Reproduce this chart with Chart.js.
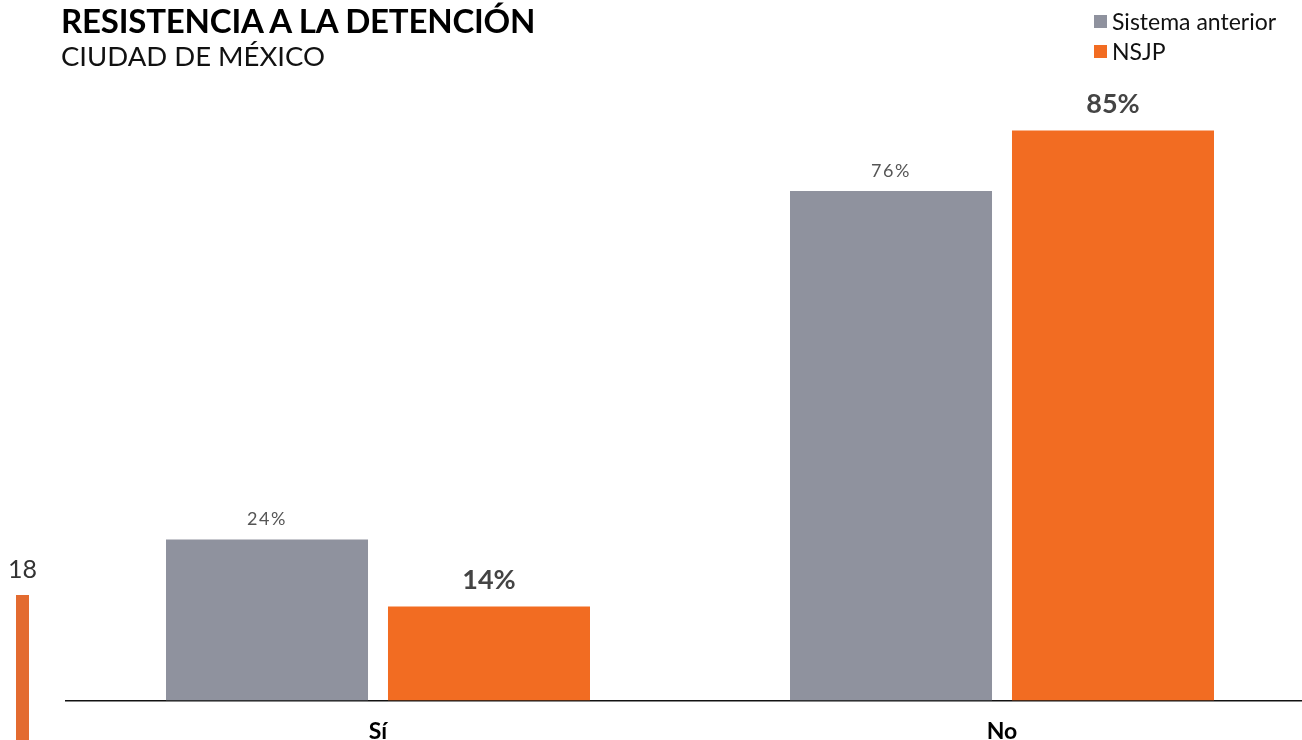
<!DOCTYPE html>
<html lang="es">
<head>
<meta charset="utf-8">
<title>Resistencia a la detención</title>
<script src="https://cdn.jsdelivr.net/npm/chart.js@4"></script>
<style>
  html, body { margin: 0; padding: 0; background: #fff; overflow: hidden; }
  body { width: 1302px; height: 740px; position: relative; font-family: Lato, sans-serif; }
  #wrap { position: absolute; left: 0; top: 0; width: 1320px; height: 764px; }
  .titulo { position: absolute; left: 61px; top: 0px; font-weight: 700; font-size: 33px; color: #000; letter-spacing: -0.2px; }
  .subtitulo { position: absolute; left: 61px; top: 39px; font-size: 27.5px; color: #111; }
  .leyenda { position: absolute; left: 1094px; top: 6px; font-size: 23px; color: #111; }
  .leyenda div { display: flex; align-items: center; height: 30px; }
  .leyenda span { display: inline-block; width: 13px; height: 13px; margin-right: 5px; }
  .pagina { position: absolute; left: 8px; top: 553px; font-size: 25px; color: #333; }
  .marca { position: absolute; left: 16px; top: 595px; width: 13px; height: 150px; background: #e36b30; }
</style>
</head>
<body>
<div id="wrap"><canvas id="grafico" width="1320" height="764"></canvas></div>
<div class="titulo">RESISTENCIA A LA DETENCIÓN</div>
<div class="subtitulo">CIUDAD DE MÉXICO</div>
<div class="leyenda" id="leyenda"></div>
<div class="pagina">18</div>
<div class="marca"></div>
<script>
// Datos
const categorias = ['Sí', 'No'];
const sistemaAnterior = [24, 76];
const nsjp = [14, 85];
const colores = ['#8f929e', '#f26c22'];
const series = ['Sistema anterior', 'NSJP'];

// Leyenda en HTML
const leyenda = document.getElementById('leyenda');
series.forEach((nombre, i) => {
  const fila = document.createElement('div');
  fila.innerHTML = '<span style="background:' + colores[i] + '"></span>' + nombre;
  leyenda.appendChild(fila);
});

// Etiquetas sobre las barras
const etiquetas = {
  id: 'etiquetas',
  afterDatasetsDraw(chart) {
    const ctx = chart.ctx;
    ctx.save();
    ctx.textAlign = 'center';
    ctx.textBaseline = 'middle';
    chart.data.datasets.forEach((ds, i) => {
      const meta = chart.getDatasetMeta(i);
      meta.data.forEach((barra, j) => {
        if (i === 0) {
          ctx.font = '18px Lato';
          ctx.fillStyle = '#555';
          ctx.letterSpacing = '1.5px';
          ctx.fillText(ds.data[j] + '%', barra.x, barra.y - 20);
        } else {
          ctx.font = 'bold 27px Lato';
          ctx.fillStyle = '#444';
          ctx.letterSpacing = '0px';
          ctx.fillText(ds.data[j] + '%', barra.x, barra.y - 26);
        }
      });
    });
    ctx.restore();
  }
};

const ctx = document.getElementById('grafico').getContext('2d');
new Chart(ctx, {
  type: 'bar',
  data: {
    labels: categorias,
    datasets: [
      { label: series[0], data: sistemaAnterior, backgroundColor: colores[0] },
      { label: series[1], data: nsjp, backgroundColor: colores[1] }
    ]
  },
  options: {
    responsive: false,
    animation: false,
    categoryPercentage: 0.7115,
    barPercentage: 0.91,
    layout: { padding: { left: 66, right: 6, top: 30, bottom: 2 } },
    scales: {
      y: { display: false, min: 0, max: 100 },
      x: {
        grid: { display: false, drawTicks: false },
        border: { display: true, color: '#111', width: 1.5 },
        ticks: { color: '#000', padding: 17, font: { family: 'Lato', size: 23, weight: 'bold' } }
      }
    },
    plugins: {
      legend: { display: false },
      tooltip: { enabled: false }
    }
  },
  plugins: [etiquetas]
});
</script>
</body>
</html>
